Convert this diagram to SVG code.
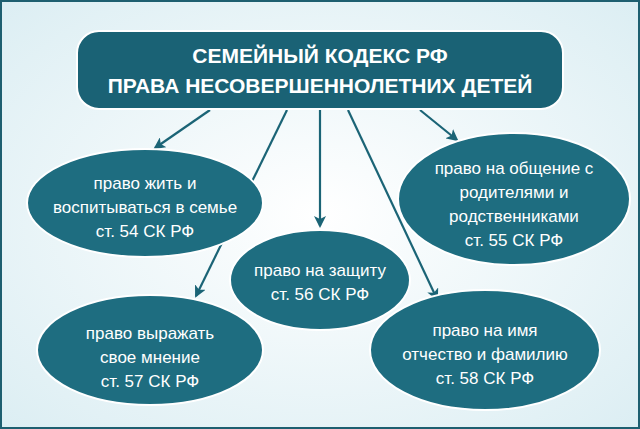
<svg xmlns="http://www.w3.org/2000/svg" width="640" height="429" viewBox="0 0 640 429">
<defs>
<radialGradient id="bg" cx="50%" cy="50%" r="70%"><stop offset="0" stop-color="#ffffff"/><stop offset="1" stop-color="#dceef3"/></radialGradient>
<marker id="ah" markerWidth="12" markerHeight="12" refX="10" refY="6" orient="auto" markerUnits="userSpaceOnUse"><path d="M0,0 L12,6 L0,12 L3,6 Z" fill="#1b6476"/></marker>
<style>
.e{fill:#1e6d80;stroke:#ffffff;stroke-width:2}
.t{font-family:"Liberation Sans",Arial,sans-serif;font-size:17px;fill:#ffffff;text-anchor:middle}
.h{font-family:"Liberation Sans",Arial,sans-serif;font-size:21px;font-weight:bold;fill:#ffffff;text-anchor:middle}
.c{stroke:#1b6476;stroke-width:2.2;fill:none;marker-end:url(#ah)}
</style>
</defs>
<rect width="640" height="429" fill="url(#bg)"/>
<rect x="1" y="1" width="638" height="427" fill="none" stroke="#1e5f70" stroke-width="2"/>
<g id="connectors">
<line class="c" x1="210" y1="110" x2="155" y2="148"/>
<line class="c" x1="287" y1="110" x2="196" y2="296"/>
<line class="c" x1="320" y1="110" x2="320" y2="226"/>
<line class="c" x1="348" y1="110" x2="437" y2="299"/>
<line class="c" x1="420" y1="110" x2="457" y2="140"/>
</g>
<g id="title"><rect x="77" y="31" width="486" height="78" rx="22" fill="#1a6275" stroke="#ffffff" stroke-width="2"/>
<text class="h" x="320" y="63">СЕМЕЙНЫЙ КОДЕКС РФ</text><text class="h" x="320" y="93">ПРАВА НЕСОВЕРШЕННОЛЕТНИХ ДЕТЕЙ</text></g>
<g id="n54"><ellipse class="e" cx="145" cy="203" rx="118" ry="54"/>
<text class="t" x="145" y="189">право жить и</text><text class="t" x="145" y="213">воспитываться в семье</text><text class="t" x="145" y="237">ст. 54 СК РФ</text></g>
<g id="n56"><ellipse class="e" cx="320" cy="280" rx="90" ry="50"/>
<text class="t" x="320" y="276">право на защиту</text><text class="t" x="320" y="300">ст. 56 СК РФ</text></g>
<g id="n55"><ellipse class="e" cx="514" cy="199" rx="116" ry="66"/>
<text class="t" x="514" y="174">право на общение с</text><text class="t" x="514" y="198">родителями и</text><text class="t" x="514" y="222">родственниками</text><text class="t" x="514" y="246">ст. 55 СК РФ</text></g>
<g id="n57"><ellipse class="e" cx="150" cy="350" rx="113" ry="55"/>
<text class="t" x="150" y="339">право выражать</text><text class="t" x="150" y="363">свое мнение</text><text class="t" x="150" y="387">ст. 57 СК РФ</text></g>
<g id="n58"><ellipse class="e" cx="485" cy="350" rx="115" ry="60"/>
<text class="t" x="485" y="336">право на имя</text><text class="t" x="485" y="360">отчество и фамилию</text><text class="t" x="485" y="384">ст. 58 СК РФ</text></g>
</svg>
